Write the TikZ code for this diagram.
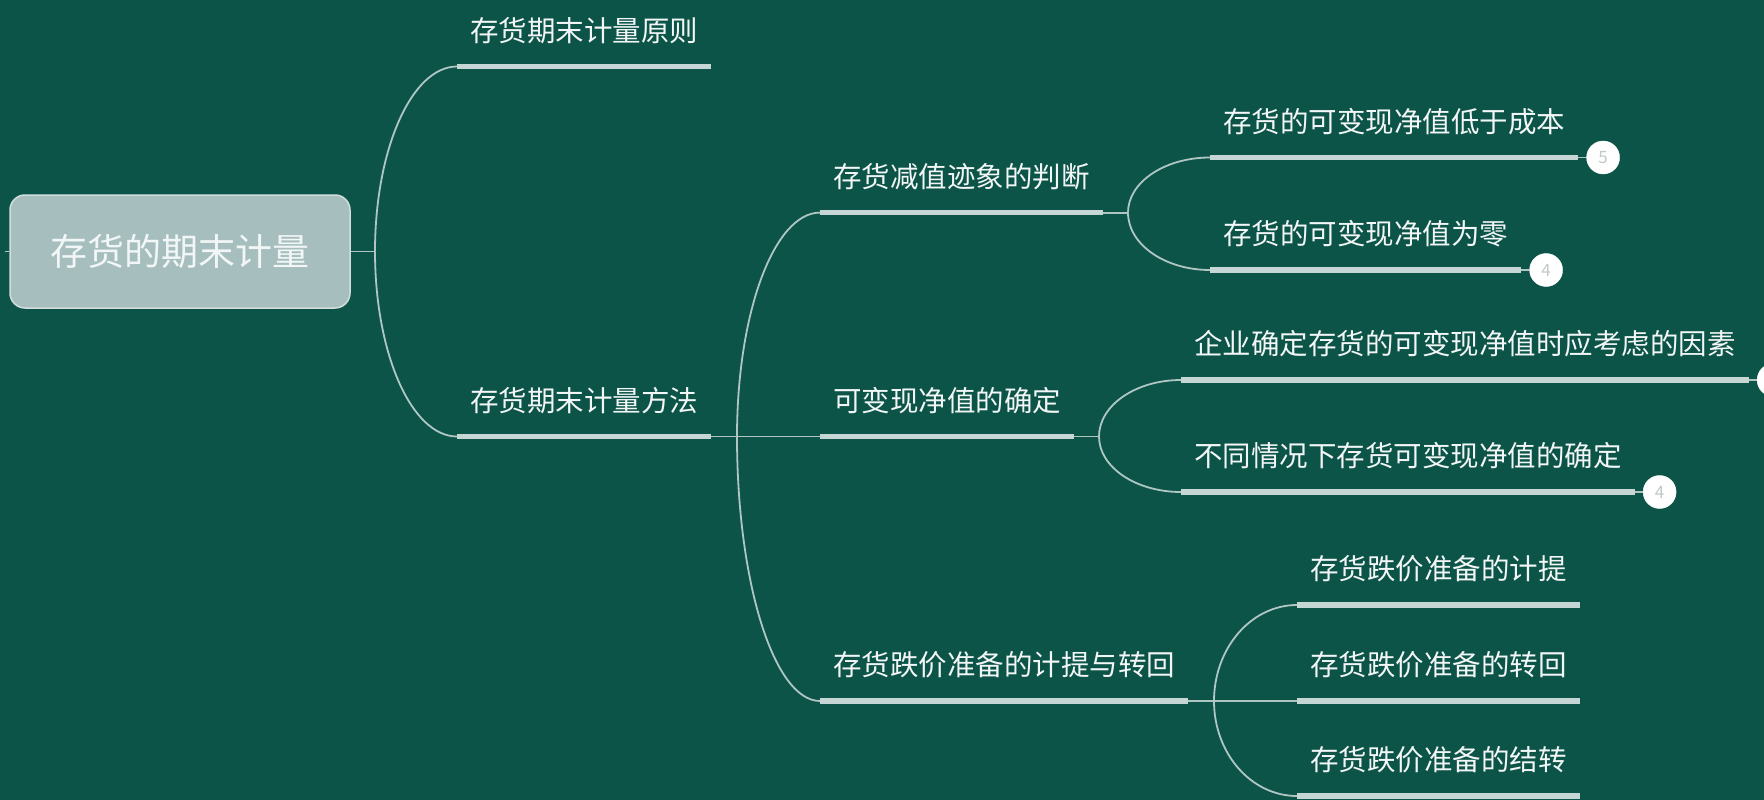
\documentclass[tikz,border=0pt]{standalone}
\usepackage{fontspec}
\setmainfont{Noto Sans CJK SC}
\usetikzlibrary{calc}
\definecolor{bg}{HTML}{0C5448}
\definecolor{ul}{HTML}{C6D6D5}
\definecolor{cn}{HTML}{AFC6C3}
\definecolor{txt}{HTML}{F2F6F6}
\definecolor{rootfill}{HTML}{A6BEBE}
\definecolor{rootline}{HTML}{D2DEDE}
\definecolor{bdg}{HTML}{BFC9C9}
\newcommand\branchto[2]{\draw[conn] (#1) .. controls ($(#1)!0.552!(#1|-#2.south west)$) and ($(#2.south west)!0.552!(#1|-#2.south west)$) .. (#2.south west);}
\newcommand\uline[1]{\draw[uln] (#1.south west) -- (#1.south east);}
\begin{document}
\begin{tikzpicture}[x=1pt,y=-1pt,
  topic/.style={anchor=south west, inner xsep=13pt, inner ysep=0pt, text depth=25pt, text=txt, font=\fontsize{28.5}{30}\selectfont},
  uln/.style={draw=ul, line width=5.5pt},
  conn/.style={draw=cn, line width=1.8pt},
  badge/.style={circle, fill=white, draw=white, minimum size=33pt, inner sep=0pt, text=bdg, font=\fontsize{17}{17}\selectfont},
  rootbox/.style={draw=rootline, line width=1.5pt, fill=rootfill, rounded corners=15pt, minimum width=340pt, minimum height=113pt, text=txt, font=\fontsize{37}{40}\selectfont}]
\fill[bg] (0,0) rectangle (1764,800);
\useasboundingbox (0,0) rectangle (1764,800);

% root
\node[rootbox] (root) at (180,251.5) {存货的期末计量};
\coordinate (stub) at (5,251.5);
\draw[conn] (stub) -- (root.west);

% level 1
\coordinate (b0) at (375,251.5);
\draw[conn] (root.east) -- (b0);
\node[topic] (p1) at (457,66.5) {存货期末计量原则};
\node[topic] (p2) at (457,436.5) {存货期末计量方法};
\branchto{b0}{p1}
\branchto{b0}{p2}
\uline{p1}
\uline{p2}

% level 2
\coordinate (b1) at (737,436.5);
\draw[conn] (p2.south east) -- (b1);
\node[topic] (q1) at (820,212.6) {存货减值迹象的判断};
\node[topic] (q2) at (820,436.5) {可变现净值的确定};
\node[topic] (q3) at (820,701) {存货跌价准备的计提与转回};
\branchto{b1}{q1}
\branchto{b1}{q2}
\branchto{b1}{q3}
\uline{q1}
\uline{q2}
\uline{q3}

% level 3 under q1
\coordinate (b2) at (1128,212.6);
\draw[conn] (q1.south east) -- (b2);
\node[topic] (r1) at (1210,157.5) {存货的可变现净值低于成本};
\node[topic] (r2) at (1210,270) {存货的可变现净值为零};
\branchto{b2}{r1}
\branchto{b2}{r2}
\uline{r1}
\uline{r2}

% level 3 under q2
\coordinate (b3) at (1099,436.5);
\draw[conn] (q2.south east) -- (b3);
\node[topic] (r3) at (1181,380) {企业确定存货的可变现净值时应考虑的因素};
\node[topic] (r4) at (1181,492) {不同情况下存货可变现净值的确定};
\branchto{b3}{r3}
\branchto{b3}{r4}
\uline{r3}
\uline{r4}

% level 3 under q3
\coordinate (b4) at (1214,701);
\draw[conn] (q3.south east) -- (b4);
\node[topic] (r5) at (1297,605) {存货跌价准备的计提};
\node[topic] (r6) at (1297,701) {存货跌价准备的转回};
\node[topic] (r7) at (1297,796) {存货跌价准备的结转};
\branchto{b4}{r5}
\branchto{b4}{r6}
\branchto{b4}{r7}
\uline{r5}
\uline{r6}
\uline{r7}

% badges
\node[badge, anchor=west] (k1) at ($(r1.south east)+(8,0)$) {5};
\draw[conn] (r1.south east) -- (k1.west);
\node[badge, anchor=west] (k2) at ($(r2.south east)+(8,0)$) {4};
\draw[conn] (r2.south east) -- (k2.west);
\node[badge, anchor=west] (k3) at ($(r3.south east)+(8,0)$) {};
\draw[conn] (r3.south east) -- (k3.west);
\node[badge, anchor=west] (k4) at ($(r4.south east)+(8,0)$) {4};
\draw[conn] (r4.south east) -- (k4.west);
\end{tikzpicture}
\end{document}
